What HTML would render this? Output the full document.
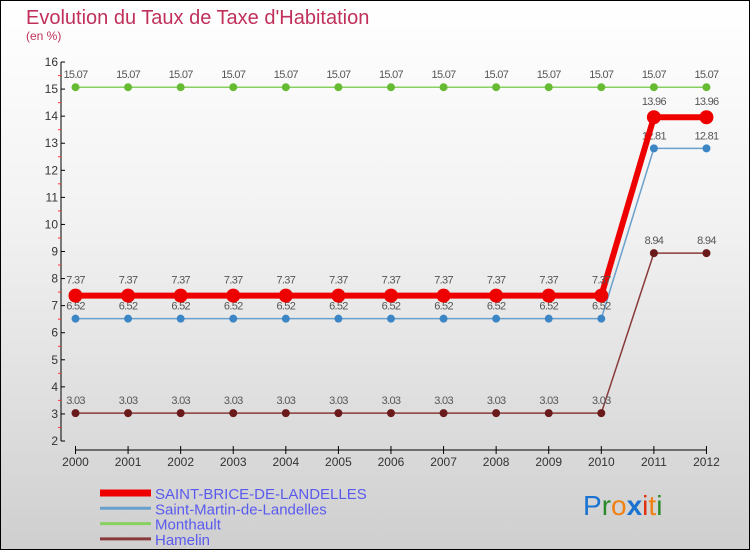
<!DOCTYPE html>
<html><head><meta charset="utf-8"><style>
body{margin:0}
#c{width:750px;height:550px;position:relative;box-sizing:border-box;border:1px solid #000;background:linear-gradient(#ffffff 0%,#f2f2f2 40%,#cfcfcf 100%);overflow:hidden;font-family:"Liberation Sans",sans-serif}
</style></head><body>
<div id="c">
<svg id="s" width="750" height="550" style="position:absolute;left:-1px;top:-1px">
<text x="26" y="24" font-size="20" fill="#c0305a">Evolution du Taux de Taxe d'Habitation</text>
<text x="26" y="40" font-size="12" fill="#c0305a">(en %)</text>
<g id="axes"></g><g id="marks"></g><g id="legend"></g>
<text x="583" y="515" font-size="28"><tspan fill="#1a73d0">P</tspan><tspan fill="#2a8a2a">r</tspan><tspan fill="#f08010">o</tspan><tspan fill="#1a73d0" font-weight="bold">x</tspan><tspan fill="#e03010">i</tspan><tspan fill="#f08010">t</tspan><tspan fill="#2a8a2a">i</tspan></text>
</svg>
</div>
<script>
const years=["2000","2001","2002","2003","2004","2005","2006","2007","2008","2009","2010","2011","2012"];
const yTicks=[2,3,4,5,6,7,8,9,10,11,12,13,14,15,16];
const seriesNames=["SAINT-BRICE-DE-LANDELLES","Saint-Martin-de-Landelles","Monthault","Hamelin"];
const saintBrice=[7.37,7.37,7.37,7.37,7.37,7.37,7.37,7.37,7.37,7.37,7.37,13.96,13.96];
const saintMartin=[6.52,6.52,6.52,6.52,6.52,6.52,6.52,6.52,6.52,6.52,6.52,12.81,12.81];
const monthault=[15.07,15.07,15.07,15.07,15.07,15.07,15.07,15.07,15.07,15.07,15.07,15.07,15.07];
const hamelin=[3.03,3.03,3.03,3.03,3.03,3.03,3.03,3.03,3.03,3.03,3.03,8.94,8.94];
const NS="http://www.w3.org/2000/svg";
const X=i=>75.5+i*52.58;
const Y=v=>441-(v-2)*27.07;
function mk(p,t,a){const e=document.createElementNS(NS,t);for(const k in a)e.setAttribute(k,a[k]);p.appendChild(e);return e;}
const ax=document.getElementById('axes');
let e=mk(ax,'line',{x1:61,y1:Y(16),x2:61,y2:Y(2),stroke:'#000'});


e=mk(ax,'line',{x1:X(0),y1:450,x2:X(12),y2:450,stroke:'#000'});


yTicks.forEach(v=>{
 mk(ax,'line',{x1:61,y1:Y(v),x2:65,y2:Y(v),stroke:'#000'});
 if(v<16){mk(ax,'line',{x1:58,y1:Y(v+0.5),x2:61,y2:Y(v+0.5),stroke:'#f33'});}
 const t=mk(ax,'text',{x:58,y:Y(v)+4,'font-size':12,fill:'#333','text-anchor':'end'});t.textContent=v;
 
 
});
years.forEach((y,i)=>{
 mk(ax,'line',{x1:X(i),y1:446,x2:X(i),y2:454,stroke:'#000'});
 const t=mk(ax,'text',{x:X(i),y:466,'font-size':12,fill:'#333','text-anchor':'middle'});t.textContent=y;
 
 
});
const mg=document.getElementById('marks');
const defs=[
 {d:monthault,c:'#88d060',pc:'#66bb33',w:1.5,r:4,name:'monthault'},
 {d:saintMartin,c:'#6aa0cc',pc:'#3d86c6',w:1.5,r:4,name:'saint-martin'},
 {d:hamelin,c:'#8a3a3a',pc:'#6a1a1a',w:1.5,r:4,name:'hamelin'},
 {d:saintBrice,c:'#ee0000',pc:'#ee0000',w:6,r:7,name:'saint-brice'}];
defs.forEach(s=>{
 const l=mk(mg,'polyline',{points:s.d.map((v,i)=>X(i)+','+Y(v)).join(' '),fill:'none',stroke:s.c,'stroke-width':s.w});
 
 
 s.d.forEach((v,i)=>{
  const p=mk(mg,'circle',{cx:X(i),cy:Y(v),r:s.r,fill:s.pc});
  
  
  const t=mk(mg,'text',{x:X(i),y:Y(v)-(s.r+5),'font-size':11,fill:'#555','text-anchor':'middle','letter-spacing':'-0.7'});
  t.textContent=v.toFixed(2);
  
  
 });
});
const lg=document.getElementById('legend');
const lc=['#ee0000','#6aa0cc','#88d060','#8a3a3a'],lw=[7,3,3,3];
seriesNames.forEach((n,i)=>{
 const y=493+i*15.3;
 const l=mk(lg,'line',{x1:100,y1:y,x2:151,y2:y,stroke:lc[i],'stroke-width':lw[i]});
 
 
 const t=mk(lg,'text',{x:155,y:y+6,'font-size':15,fill:'#5a5aee'});t.textContent=n;
 
 
});
</script>
</body></html>
